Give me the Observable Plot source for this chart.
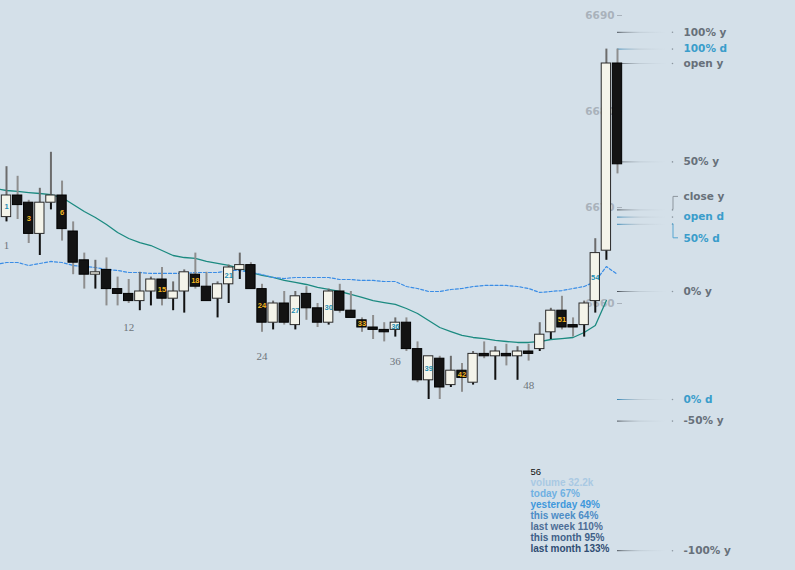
<!DOCTYPE html>
<html><head><meta charset="utf-8">
<script src="https://cdn.jsdelivr.net/npm/d3@7"></script>
<script src="https://cdn.jsdelivr.net/npm/@observablehq/plot@0.6"></script>
<style>
html,body{margin:0;padding:0;background:#d4e0e9;}
#chart svg{display:block}
</style></head><body><div id="chart"></div>
<script>
// ---- data ----
const candleIndex = d3.range(1, 57);
const opens = [6669, 6671.25, 6670.5, 6667.25, 6670.5, 6671.25, 6667.5, 6664.5, 6663, 6663.5,
  6661.5, 6661, 6660.25, 6661.25, 6662.5, 6660.5, 6661.25, 6663, 6661.75, 6660.5,
  6662, 6663.5, 6664, 6661.5, 6658, 6660, 6657.75, 6661, 6659.5, 6658,
  6661.25, 6659.25, 6658.25, 6657.5, 6657.25, 6657.25, 6658, 6655.25, 6652, 6654.25,
  6651.5, 6653, 6651.75, 6654.75, 6654.5, 6654.75, 6654.5, 6655, 6655.25, 6657,
  6659.25, 6657.75, 6657.75, 6660.25, 6665.5, 6685];
const highs = [6674.25, 6673.25, 6670.75, 6672, 6675.75, 6672.75, 6668.5, 6665.25, 6664.5, 6664.75,
  6662.75, 6662.5, 6663.25, 6662.75, 6663.75, 6662.25, 6663.5, 6665.25, 6663.25, 6662.25,
  6664, 6665.25, 6664.25, 6662, 6660.25, 6661.25, 6661.25, 6661.75, 6660, 6661.5,
  6662, 6661.25, 6658.5, 6658.75, 6658, 6658.5, 6658.5, 6656, 6654.5, 6654.5,
  6654.5, 6653.75, 6655, 6656, 6655.5, 6655.75, 6655.5, 6655.75, 6658, 6659.5,
  6660.75, 6658.5, 6660.25, 6666.75, 6686.5, 6686.5];
const lows = [6668.5, 6668.75, 6666.25, 6665, 6669.75, 6666.5, 6663, 6661.5, 6661.5, 6659.75,
  6659.75, 6660, 6659.25, 6659.75, 6659.75, 6659.25, 6659, 6661.5, 6660.25, 6658.5,
  6660, 6662.5, 6661.5, 6657, 6657.25, 6657.75, 6657.25, 6658.25, 6657.5, 6657.75,
  6659, 6658.5, 6657, 6656.25, 6656, 6656.5, 6655, 6651.75, 6650, 6650,
  6651.25, 6650.75, 6651.5, 6654.25, 6652, 6653.5, 6652, 6654, 6655, 6656.25,
  6657.25, 6656.5, 6656.5, 6659, 6664.5, 6673.5];
const closes = [6671.25, 6670.25, 6667.25, 6670.5, 6671.25, 6667.75, 6664.25, 6663, 6663.25, 6661.5,
  6661, 6660.25, 6661.25, 6662.5, 6660.5, 6661.25, 6663.25, 6661.75, 6660.25, 6662,
  6663.75, 6664, 6661.5, 6658, 6660, 6658, 6660.75, 6659.5, 6658, 6661.25,
  6659.25, 6658.5, 6657.5, 6657.25, 6657, 6658, 6655.25, 6652, 6654.5, 6651.25,
  6653, 6652.25, 6654.75, 6654.5, 6655, 6654.5, 6655, 6654.75, 6656.75, 6659.25,
  6657.5, 6657.5, 6660, 6665.25, 6685, 6674.5];
// solid average line, candles 0..55
const tealValues = [6671.98, 6671.77, 6671.67, 6671.56, 6671.46, 6671.35, 6671.04, 6670.31, 6669.58, 6668.96,
  6668.23, 6667.40, 6666.77, 6666.35, 6666.04, 6665.52, 6665.00, 6664.79, 6664.69, 6664.38,
  6664.17, 6663.96, 6663.65, 6663.23, 6662.92, 6662.71, 6662.40, 6662.19, 6661.98, 6661.67,
  6661.46, 6661.25, 6660.94, 6660.63, 6660.31, 6660.10, 6659.90, 6659.48, 6658.96, 6658.23,
  6657.50, 6657.08, 6656.67, 6656.46, 6656.35, 6656.15, 6656.04, 6655.94, 6655.94, 6656.04,
  6656.25, 6656.35, 6656.46, 6656.98, 6657.71, 6660.31];
// dashed line, candles 0..56
const dashValues = [6664.06, 6664.27, 6664.27, 6663.96, 6664.17, 6664.38, 6664.27, 6663.96, 6663.85, 6663.75,
  6663.54, 6663.44, 6663.23, 6663.23, 6663.13, 6663.13, 6663.13, 6663.13, 6663.23, 6663.23,
  6663.23, 6663.44, 6663.44, 6663.23, 6663.02, 6662.71, 6662.60, 6662.71, 6662.71, 6662.71,
  6662.71, 6662.50, 6662.50, 6662.40, 6662.40, 6662.29, 6662.29, 6661.77, 6661.56, 6661.25,
  6661.25, 6661.46, 6661.56, 6661.77, 6661.88, 6661.88, 6661.88, 6661.77, 6661.56, 6661.15,
  6661.25, 6661.35, 6661.56, 6661.77, 6662.29, 6663.85, 6663.02];
const labeledCandles = [1, 3, 6, 15, 18, 21, 24, 27, 30, 33, 36, 39, 42, 51, 54];
const xTickCandles = [1, 12, 24, 36, 48];
const yTicks = [6660, 6670, 6680, 6690];
const levelNames = ["100% y", "100% d", "open y", "50% y", "close y", "open d", "50% d", "0% y", "0% d", "-50% y", "-100% y"];
const levelValues = [6688.25, 6686.5, 6685, 6674.75, 6669.75, 6669, 6668.25, 6661.25, 6650, 6647.75, 6634.25];
const levelKinds = ["y", "d", "y", "y", "y", "d", "d", "y", "d", "y", "y"];
const infoLabels = ["56", "volume 32.2k", "today 67%", "yesterday 49%", "this week 64%", "last week 110%", "this month 95%", "last month 133%"];

// ---- build ----
const candles = candleIndex.map((i, k) => ({i, open: opens[k], high: highs[k], low: lows[k], close: closes[k], up: closes[k] >= opens[k]}));
const upC = candles.filter(d => d.up), downC = candles.filter(d => !d.up);
const teal = tealValues.map((v, k) => ({i: k, v}));
const dash = dashValues.map((v, k) => ({i: k, v}));
const levels = levelNames.map((name, k) => ({name, value: levelValues[k], kind: levelKinds[k]}));
const lastIdx = candleIndex[candleIndex.length - 1];
const bodyTop = d => Math.max(d.open, d.close), bodyBot = d => Math.min(d.open, d.close);
const labelShift = {"close y": -13, "50% d": 14};
const infoColors = ["#111111", "#a9c9e3", "#6fb0e2", "#3f98dc", "#4c8cc6", "#4d6d96", "#3e5f88", "#2f4d73"];
const levelColor = {y: "#67707a", d: "#3a9dcb"};

const marks = [
  Plot.axisY({ticks: yTicks, anchor: "left", dx: 622, tickSize: 5, tickPadding: 3, label: null,
    tickFormat: d => String(d), fill: "#a9b2bb", stroke: "#a9b2bb", fontSize: 10.5, fontWeight: "bold", fontFamily: "DejaVu Sans"}),
  Plot.ruleY(levels.filter(d => d.kind === "y"), {y: "value", x1: () => lastIdx, x2: () => lastIdx + 4.5, stroke: "url(#fadeY)", strokeWidth: 1}),
  Plot.ruleY(levels.filter(d => d.kind === "d"), {y: "value", x1: () => lastIdx, x2: () => lastIdx + 4.5, stroke: "url(#fadeD)", strokeWidth: 1}),
  Plot.dot(levels, {x: () => lastIdx + 4.95, y: "value", r: 0.8, fill: "#8d97a0", stroke: null}),
  Plot.line(teal, {x: "i", y: "v", stroke: "#1b8a80", strokeWidth: 1.3}),
  Plot.line(dash, {x: "i", y: "v", stroke: "#3a8de6", strokeWidth: 1.2, strokeDasharray: "3,2"}),
  // wicks
  Plot.ruleX(upC, {x: "i", y1: "high", y2: bodyTop, stroke: "#6c6c6c", strokeWidth: 2}),
  Plot.ruleX(upC, {x: "i", y1: bodyBot, y2: "low", stroke: "#111111", strokeWidth: 2}),
  Plot.ruleX(downC, {x: "i", y1: "high", y2: "low", stroke: "#8e8e8e", strokeWidth: 2}),
  // bodies
  Plot.rect(upC, {x1: d => d.i - 0.42, x2: d => d.i + 0.42, y1: "open", y2: "close", fill: "#f4f4ea", stroke: "#2a2a2a", strokeWidth: 1}),
  Plot.rect(downC, {x1: d => d.i - 0.42, x2: d => d.i + 0.42, y1: "open", y2: "close", fill: "#131313", stroke: "#000000", strokeWidth: 1}),
  // candle labels
  Plot.text(upC.filter(d => labeledCandles.includes(d.i)), {x: "i", y: d => (d.open + d.close) / 2, text: d => String(d.i),
    fill: "#1d8db3", fontSize: 7.5, fontWeight: "bold", fontFamily: "Liberation Sans"}),
  Plot.text(downC.filter(d => labeledCandles.includes(d.i)), {x: "i", y: d => (d.open + d.close) / 2, text: d => String(d.i),
    fill: "#f2b824", fontSize: 7.5, fontWeight: "bold", fontFamily: "Liberation Sans"}),
  // x labels
  Plot.text(candles.filter(d => xTickCandles.includes(d.i)), {x: "i", y: "low", dy: 24, text: d => String(d.i),
    fill: "#6e757b", fontSize: 11, fontFamily: "Liberation Serif"}),
  // level labels
  ...levels.map(l => Plot.text([l], {x: () => lastIdx, y: "value", dx: 66, dy: labelShift[l.name] || 0, text: "name",
    textAnchor: "start", fill: levelColor[l.kind], fontSize: 10.5, fontWeight: "bold", fontFamily: "DejaVu Sans"})),
  // info block
  ...infoLabels.map((t, k) => Plot.text([t], {frameAnchor: "top-left", dx: 530, dy: 471 + 11 * k, text: d => d,
    textAnchor: "start", lineAnchor: "middle", fill: infoColors[k], fontSize: k === 0 ? 9.5 : 10, fontWeight: k === 0 ? "normal" : "bold",
    fontFamily: "Liberation Sans"}))
];

const plot = Plot.plot({
  width: 795, height: 570,
  marginLeft: 0, marginRight: 0, marginTop: 0, marginBottom: 0,
  style: {background: "#d4e0e9", overflow: "visible"},
  x: {domain: [1, 56], range: [6, 617], axis: null},
  y: {domain: [6660, 6690], range: [303, 15], axis: null},
  marks
});
document.getElementById("chart").appendChild(plot);

// gradients and brackets, positioned with the plot's own scales
const xs = plot.scale("x").apply, ys = plot.scale("y").apply;
const svg = d3.select(plot);
const defs = svg.insert("defs", ":first-child");
function grad(id, c0) {
  const g = defs.append("linearGradient").attr("id", id).attr("gradientUnits", "userSpaceOnUse")
    .attr("x1", xs(lastIdx)).attr("x2", xs(lastIdx + 4.5)).attr("y1", 0).attr("y2", 0);
  g.append("stop").attr("offset", 0).attr("stop-color", c0).attr("stop-opacity", 0.95);
  g.append("stop").attr("offset", 0.12).attr("stop-color", c0).attr("stop-opacity", 0.6);
  g.append("stop").attr("offset", 0.45).attr("stop-color", "#97a3ad").attr("stop-opacity", 0.35);
  g.append("stop").attr("offset", 1).attr("stop-color", "#b9c5cf").attr("stop-opacity", 0);
}
grad("fadeY", "#3f464e");
grad("fadeD", "#2f7fae");
const bx = xs(lastIdx) + 56;
levels.filter(l => labelShift[l.name]).forEach(l => {
  const y0 = ys(l.value), y1 = y0 + labelShift[l.name];
  svg.append("path").attr("d", `M${bx - 1},${y0}H${bx}V${y1}H${bx + 5}`)
    .attr("fill", "none").attr("stroke", l.kind === "d" ? "#56a5d0" : "#8c959d").attr("stroke-width", 1);
});
</script></body></html>
